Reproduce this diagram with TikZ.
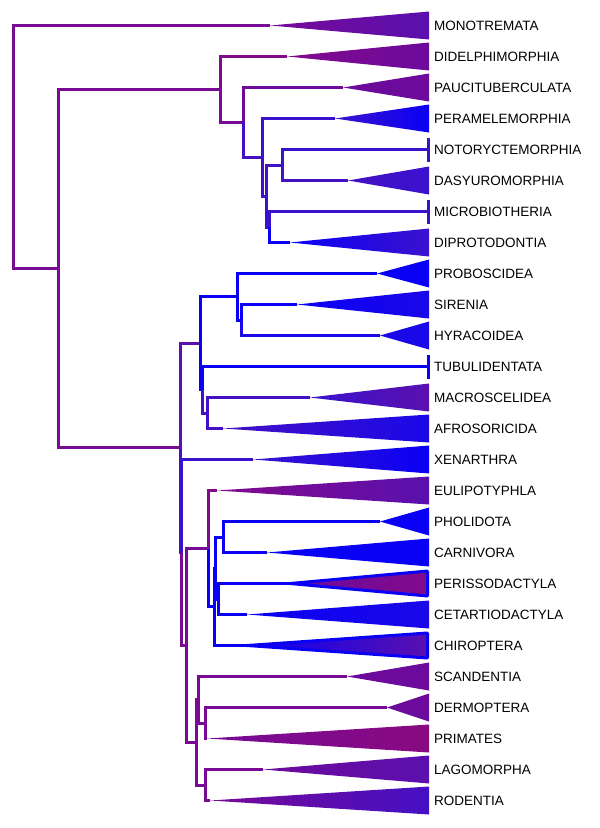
\documentclass[tikz,border=0pt]{standalone}
\usepackage{fontspec}
\setmainfont{Liberation Sans}
\definecolor{pu}{HTML}{780A96}
\definecolor{pr}{HTML}{820A8C}
\definecolor{pa}{HTML}{6C0A9C}
\definecolor{vi}{HTML}{5A10AE}
\definecolor{ind}{HTML}{4410C4}
\definecolor{ind2}{HTML}{3A12CE}
\definecolor{bl}{HTML}{0A00F5}
\definecolor{bl2}{HTML}{1A08E8}
\definecolor{mg}{HTML}{880A80}
\newcommand\myleaf[6]{%
  \coordinate (#1) at (#3,#2);
  \shade[left color=#4,right color=#5] (#1) -- (429,#2-14) -- (429,#2+14) -- cycle;
  \node[lab] (#1-l) at (434,#2) {#6};}
\newcommand\mybar[4]{%
  \coordinate (#1) at (428,#2);
  \draw[branch=#3] (428,#2-12) -- (428,#2+12);
  \node[lab] (#1-l) at (434,#2) {#4};}
\newcommand\myoutleaf[6]{%
  \coordinate (#1) at (#3,#2);
  \shade[left color=#4,right color=#5] (#1) -- (427.5,#2-12.5) -- (427.5,#2+12.5) -- cycle;
  \draw[line width=3pt,draw=bl,line join=bevel] (#1) -- (427.5,#2-12.5) -- (427.5,#2+12.5) -- cycle;
  \node[lab] (#1-l) at (434,#2) {#6};}
\tikzset{
  branch/.style={line width=3pt,draw=#1,line join=miter},
  lab/.style={anchor=west,inner sep=0pt,font=\fontsize{13.5}{16}\selectfont}
}
\begin{document}
\begin{tikzpicture}[x=1pt,y=-1pt]
\useasboundingbox (0,0) rectangle (600,828);
% leaves
\myleaf{mono}{25.5}{270}{pu}{vi}{MONOTREMATA}
\myleaf{didel}{56.5}{287}{pr}{pa}{DIDELPHIMORPHIA}
\myleaf{pauci}{87.5}{343}{pa}{pa}{PAUCITUBERCULATA}
\myleaf{peram}{118.5}{335}{ind2}{bl}{PERAMELEMORPHIA}
\mybar{notory}{149.5}{ind2}{NOTORYCTEMORPHIA}
\myleaf{dasy}{180.5}{348}{ind}{ind2}{DASYUROMORPHIA}
\mybar{micro}{211.5}{ind2}{MICROBIOTHERIA}
\myleaf{dipro}{242.5}{290}{bl}{ind2}{DIPROTODONTIA}
\myleaf{probo}{273.5}{377}{bl}{bl}{PROBOSCIDEA}
\myleaf{siren}{304.5}{297}{bl}{bl2}{SIRENIA}
\myleaf{hyrac}{335.5}{380}{bl2}{bl2}{HYRACOIDEA}
\mybar{tubuli}{366.5}{bl}{TUBULIDENTATA}
\myleaf{macro}{397.5}{310}{ind2}{vi}{MACROSCELIDEA}
\myleaf{afro}{428.5}{223}{ind}{bl2}{AFROSORICIDA}
\myleaf{xen}{459.5}{253}{ind2}{bl}{XENARTHRA}
\myleaf{euli}{490.5}{217}{pr}{vi}{EULIPOTYPHLA}
\myleaf{pholi}{521.5}{380}{bl}{bl}{PHOLIDOTA}
\myleaf{carni}{552.5}{267}{bl}{bl}{CARNIVORA}
\myoutleaf{periss}{583.5}{290}{pa}{pr}{PERISSODACTYLA}
\myleaf{cetart}{614.5}{247}{bl}{bl2}{CETARTIODACTYLA}
\myoutleaf{chiro}{645.5}{247}{bl}{vi}{CHIROPTERA}
\myleaf{scand}{676.5}{347}{pa}{pa}{SCANDENTIA}
\myleaf{dermo}{707.5}{387}{pa}{pa}{DERMOPTERA}
\myleaf{prim}{738.5}{207}{pu}{mg}{PRIMATES}
\myleaf{lago}{769.5}{263}{pa}{vi}{LAGOMORPHA}
\myleaf{rod}{800.5}{210}{pu}{ind}{RODENTIA}
% internal nodes
\coordinate (C) at (282,165);
\coordinate (E) at (269,227);
\coordinate (D) at (266,196);
\coordinate (A) at (262,157.25);
\coordinate (B) at (243,122.4);
\coordinate (M) at (220,89.4);
\coordinate (SH) at (241,320);
\coordinate (P) at (237,296.75);
\coordinate (AI) at (207,413);
\coordinate (TA) at (202.5,389.75);
\coordinate (AF) at (200.5,343.25);
\coordinate (Fe) at (223,537);
\coordinate (Eu) at (218,599);
\coordinate (FE) at (215,568);
\coordinate (Sc) at (214,606.75);
\coordinate (La) at (208,548.6);
\coordinate (PM) at (205,723);
\coordinate (EA) at (198,699.75);
\coordinate (G) at (205,785);
\coordinate (EG) at (196.5,742.4);
\coordinate (BO) at (186,645.5);
\coordinate (XB) at (181.5,552.5);
\coordinate (PL) at (180,447.9);
\coordinate (TH) at (58,268.6);
\coordinate (R) at (13,147);
% branches
\draw[branch=pu] (R) |- (mono);
\draw[branch=pu] (R) |- (TH);
\draw[branch=pu] (TH) |- (M);
\draw[branch=pu] (TH) |- (PL);
\draw[branch=pr] (M) |- (didel);
\draw[branch=pu] (M) |- (B);
\draw[branch=pa] (B) |- (pauci);
\draw[branch=ind] (B) |- (A);
\draw[branch=ind2] (A) |- (peram);
\draw[branch=ind] (A) |- (D);
\draw[branch=ind] (D) |- (C);
\draw[branch=ind2] (D) |- (E);
\draw[branch=ind2] (C) |- (notory);
\draw[branch=ind] (C) |- (dasy);
\draw[branch=ind2] (E) |- (micro);
\draw[branch=bl] (E) |- (dipro);
\draw[branch=vi] (PL) |- (AF);
\draw[branch=ind] (PL) |- (XB);
\draw[branch=bl] (AF) |- (P);
\draw[branch=bl] (AF) |- (TA);
\draw[branch=bl] (P) |- (probo);
\draw[branch=bl] (P) |- (SH);
\draw[branch=bl] (SH) |- (siren);
\draw[branch=bl2] (SH) |- (hyrac);
\draw[branch=bl] (TA) |- (tubuli);
\draw[branch=ind] (TA) |- (AI);
\draw[branch=ind] (AI) |- (macro);
\draw[branch=ind] (AI) |- (afro);
\draw[branch=ind2] (XB) |- (xen);
\draw[branch=pu] (XB) |- (BO);
\draw[branch=pu] (BO) |- (La);
\draw[branch=pu] (BO) |- (EG);
\draw[branch=pr] (La) |- (euli);
\draw[branch=bl] (La) |- (Sc);
\draw[branch=bl] (Sc) |- (FE);
\draw[branch=bl] (Sc) |- (chiro);
\draw[branch=bl] (FE) |- (Fe);
\draw[branch=bl] (FE) |- (Eu);
\draw[branch=bl] (Fe) |- (pholi);
\draw[branch=bl] (Fe) |- (carni);
\draw[branch=bl] (Eu) |- (periss);
\draw[branch=bl] (Eu) |- (cetart);
\draw[branch=pu] (EG) |- (EA);
\draw[branch=pu] (EG) |- (G);
\draw[branch=pu] (EA) |- (scand);
\draw[branch=pu] (EA) |- (PM);
\draw[branch=pu] (PM) |- (dermo);
\draw[branch=pu] (PM) |- (prim);
\draw[branch=pu] (G) |- (lago);
\draw[branch=pu] (G) |- (rod);
\end{tikzpicture}
\end{document}
